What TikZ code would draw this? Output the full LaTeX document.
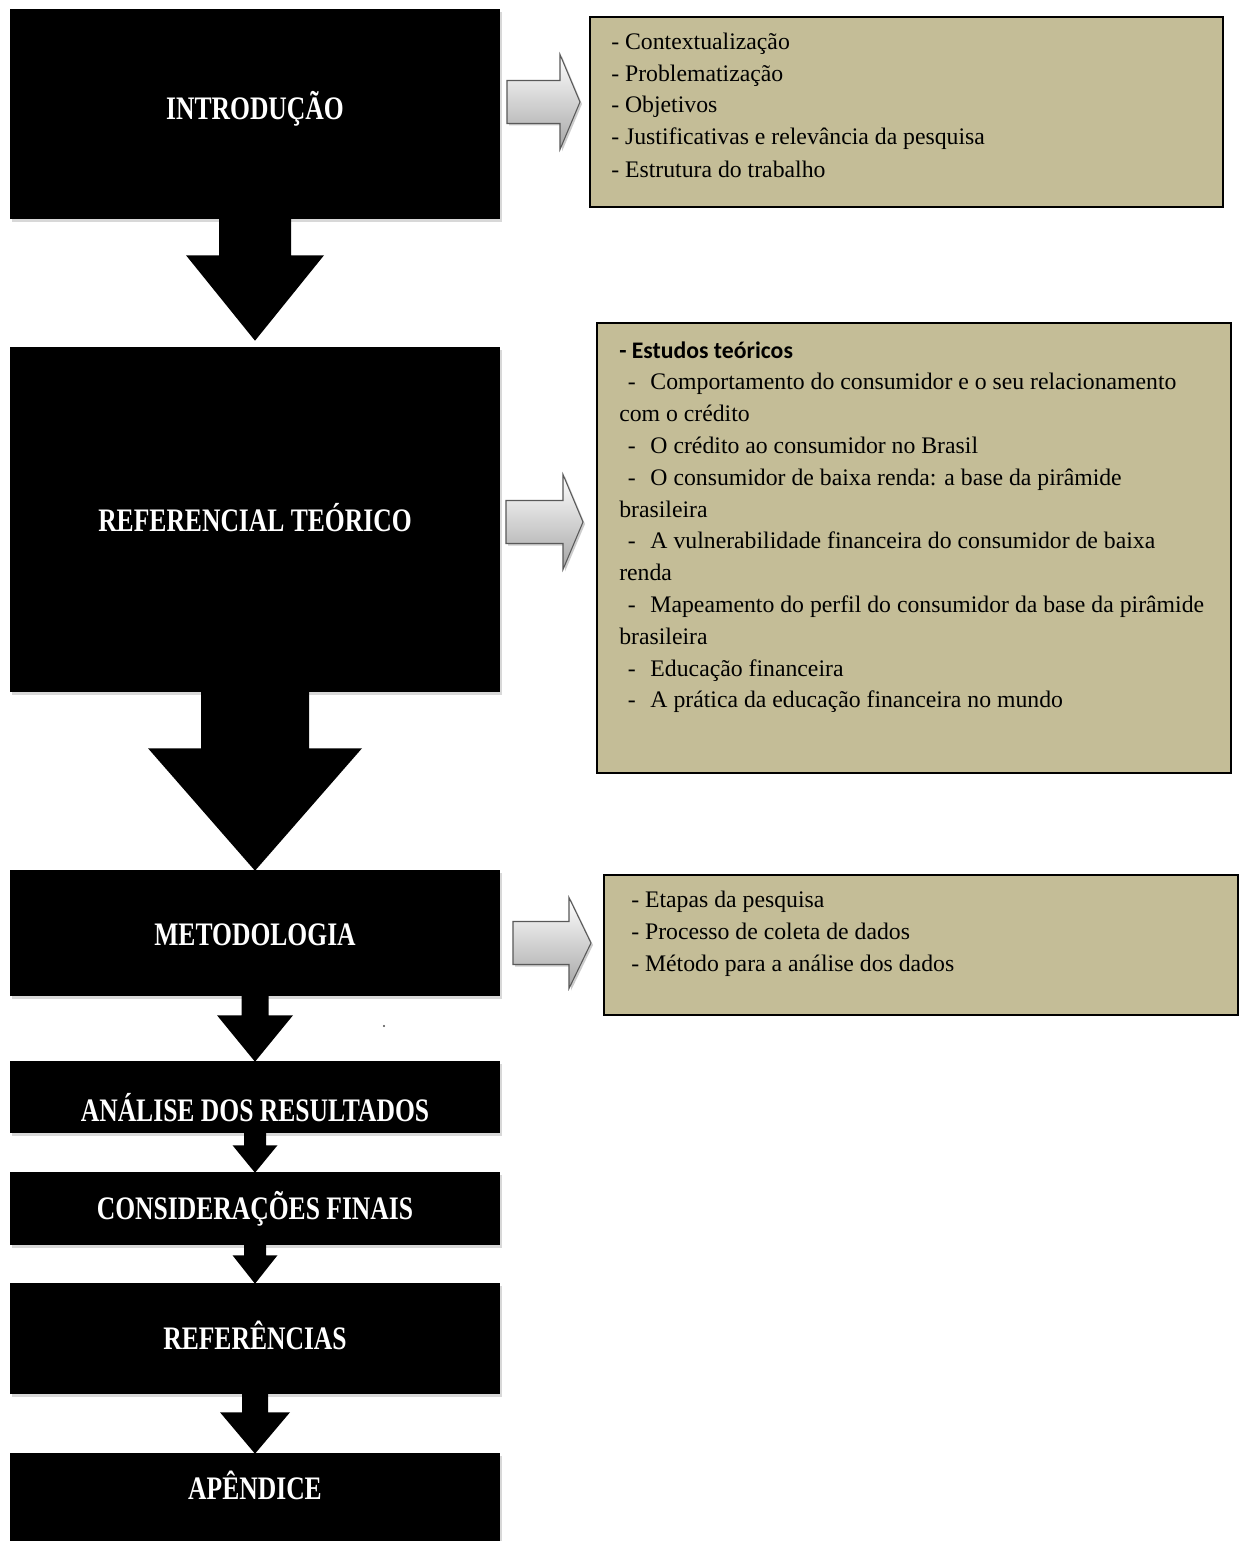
\documentclass[tikz,border=0pt]{standalone}
\usepackage{fontspec}
\setmainfont{Liberation Serif}
\newfontfamily\titlefont[FakeStretch=0.78]{Liberation Serif}
\newfontfamily\calib{Carlito}
\usetikzlibrary{calc,fit,shadows}
\definecolor{tanfill}{HTML}{C4BD97}
% from node, to node, stem half width, head half width, stem length (px), tip offset (px)
\newcommand{\blockdown}[6]{%
  \fill[black] ($(#1.south)+(-#3,-1)$) -- ($(#1.south)+(#3,-1)$) -- ($(#1.south)+(#3,#5)$)
   -- ($(#1.south)+(#4,#5)$) -- ($(#2.north)+(0,#6)$) -- ($(#1.south)+(-#4,#5)$)
   -- ($(#1.south)+(-#3,#5)$) -- cycle;}
\begin{document}
\begin{tikzpicture}[x=0.75pt,y=-0.75pt,
  blackbox/.style={fill=black, inner sep=0pt,
    drop shadow={shadow xshift=1.2pt, shadow yshift=-2.2pt, opacity=0.3, fill=gray}},
  tanbox/.style={fill=tanfill, draw=black, line width=1.5pt, inner sep=0pt},
  titletext/.style={text=white, font=\titlefont\bfseries\fontsize{24.6}{28}\selectfont,
    text height=16.3pt, text depth=0pt, inner sep=0pt},
  bodytext/.style={font=\fontsize{17.8}{22}\selectfont, inner sep=0pt, anchor=base west},
  headtext/.style={font=\calib\bfseries\fontsize{17.8}{22}\selectfont, inner sep=0pt, anchor=base west},
  grayarr/.style={draw=gray!70!black, line width=0.8pt, top color=white, bottom color=gray!70,
    drop shadow={shadow xshift=1.5pt, shadow yshift=-1.5pt, opacity=0.4, fill=gray}}]
\useasboundingbox (0,0) rectangle (1239,1541);
\fill[white] (0,0) rectangle (1239,1541);

% black boxes
\node[blackbox, fit={(10,9)(500,219)}] (b1) {};
\node[blackbox, fit={(10,347)(500,692)}] (b2) {};
\node[blackbox, fit={(10,870)(500,996)}] (b3) {};
\node[blackbox, fit={(10,1061)(500,1133)}] (b4) {};
\node[blackbox, fit={(10,1172)(500,1245)}] (b5) {};
\node[blackbox, fit={(10,1283)(500,1394)}] (b6) {};
\node[blackbox, fit={(10,1453)(500,1560)}] (b7) {};

% down arrows
\blockdown{b1}{b2}{36}{69}{36}{-6}
\blockdown{b2}{b3}{54}{107}{56}{1}
\blockdown{b3}{b4}{13.5}{38}{19}{1}
\blockdown{b4}{b5}{11}{22.5}{12}{1}
\blockdown{b5}{b6}{11}{22.5}{10}{1}
\blockdown{b6}{b7}{13}{35}{18}{1}

% titles
\node[titletext] (t1) at (255,109) {INTRODUÇÃO};
\node[titletext] (t2) at (255,521) {REFERENCIAL TEÓRICO};
\node[titletext] (t3) at (255,935) {METODOLOGIA};
\node[titletext] (t4) at (255,1111) {ANÁLISE DOS RESULTADOS};
\node[titletext] (t5) at (255,1209) {CONSIDERAÇÕES FINAIS};
\node[titletext] (t6) at (255,1339) {REFERÊNCIAS};
\node[titletext] (t7) at (255,1489) {APÊNDICE};

% tan boxes
\node[tanbox, fit={(590,17)(1223,207)}] (r1) {};
\node[tanbox, fit={(597,323)(1231,773)}] (r2) {};
\node[tanbox, fit={(604,875)(1238,1015)}] (r3) {};

% gray arrows (tip, then around)
\coordinate (g1) at ($(r1.west)+(-9,-10)$);
\coordinate (g2) at ($(r2.west)+(-13,-26)$);
\coordinate (g3) at ($(r3.west)+(-12,-2)$);
\draw[grayarr] (g1) -- ++(-20,-47.5) -- ++(0,26) -- ++(-53,0) -- ++(0,43) -- ++(53,0) -- ++(0,26) -- cycle;
\draw[grayarr] (g2) -- ++(-20,-47.5) -- ++(0,26) -- ++(-57,0) -- ++(0,43) -- ++(57,0) -- ++(0,26) -- cycle;
\draw[grayarr] (g3) -- ++(-22,-45.5) -- ++(0,24) -- ++(-56,0) -- ++(0,43) -- ++(56,0) -- ++(0,24) -- cycle;

% box 1 text
\node[bodytext] (r1a) at (611,50) {- Contextualização};
\node[bodytext] (r1b) at (611,82) {- Problematização};
\node[bodytext] (r1c) at (611,113) {- Objetivos};
\node[bodytext] (r1d) at (611,145) {- Justificativas e relevância da pesquisa};
\node[bodytext] (r1e) at (611,177) {- Estrutura do trabalho};

% box 2 text
\node[headtext] (r2a) at (619,358) {- Estudos teóricos};
\node[bodytext] (r2b) at (619,389.8) {\hspace*{6.5pt}-\hspace*{11pt}Comportamento do consumidor e o seu relacionamento};
\node[bodytext] (r2c) at (619,421.6) {com o crédito};
\node[bodytext] (r2d) at (619,453.4) {\hspace*{6.5pt}-\hspace*{11pt}O crédito ao consumidor no Brasil};
\node[bodytext] (r2e) at (619,485.2) {\hspace*{6.5pt}-\hspace*{11pt}O consumidor de baixa renda: a base da pirâmide};
\node[bodytext] (r2f) at (619,517) {brasileira};
\node[bodytext] (r2g) at (619,548.8) {\hspace*{6.5pt}-\hspace*{11pt}A vulnerabilidade financeira do consumidor de baixa};
\node[bodytext] (r2h) at (619,580.6) {renda};
\node[bodytext] (r2i) at (619,612.4) {\hspace*{6.5pt}-\hspace*{11pt}Mapeamento do perfil do consumidor da base da pirâmide};
\node[bodytext] (r2j) at (619,644.2) {brasileira};
\node[bodytext] (r2k) at (619,676) {\hspace*{6.5pt}-\hspace*{11pt}Educação financeira};
\node[bodytext] (r2l) at (619,707.8) {\hspace*{6.5pt}-\hspace*{11pt}A prática da educação financeira no mundo};

% box 3 text
\node[bodytext] (r3a) at (631,907) {- Etapas da pesquisa};
\node[bodytext] (r3b) at (631,939) {- Processo de coleta de dados};
\node[bodytext] (r3c) at (631,971) {- Método para a análise dos dados};

% stray dot
\fill[black!70] (384,1026) circle (1.2);
\end{tikzpicture}
\end{document}
